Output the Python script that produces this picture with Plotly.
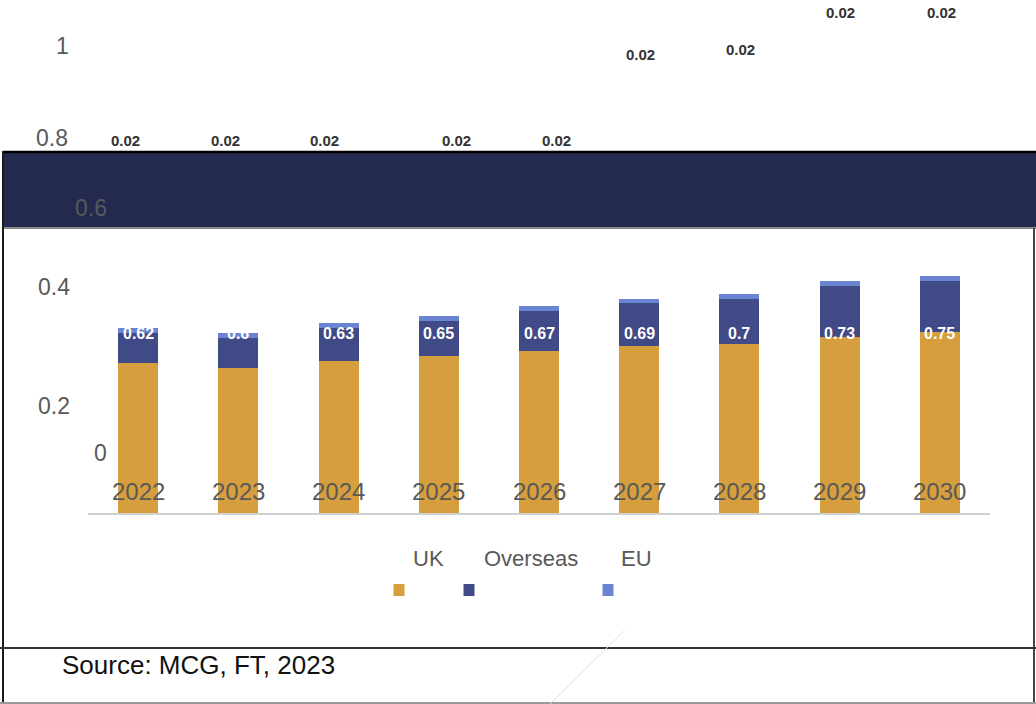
import plotly.graph_objects as go

# ---- data -------------------------------------------------------------
years = ["2022", "2023", "2024", "2025", "2026", "2027", "2028", "2029", "2030"]
uk = [0.62, 0.6, 0.63, 0.65, 0.67, 0.69, 0.7, 0.73, 0.75]
overseas = [0.127, 0.125, 0.138, 0.147, 0.167, 0.178, 0.188, 0.21, 0.212]
eu = [0.02, 0.02, 0.02, 0.02, 0.02, 0.02, 0.02, 0.02, 0.02]
value_ticks = ["1", "0.8", "0.6", "0.4", "0.2", "0"]
series_names = ["UK", "Overseas", "EU"]
source_text = "Source: MCG, FT, 2023"

# ---- styling / layout ------------------------------------------------
W, H = 1036, 704
L, R, T, B = 88, 46, 228, 191
PLOT_W = W - L - R
PLOT_H = H - T - B
Y_TOP = PLOT_H / 241.5          # value range shown inside the plot area

FONT = "Liberation Sans, Arial, sans-serif"
GREY = "#595959"
COLORS = {"UK": "#D69E3C", "Overseas": "#404A86", "EU": "#6A84D2"}
NAVY = "#242A4F"


def px(x):
    """pixel x -> paper x"""
    return (x - L) / PLOT_W


def py(y):
    """pixel y -> paper y"""
    return (H - B - y) / PLOT_H


# where the loose labels sit on the page (pixel centres)
tick_pos = [(62, 46), (52, 138), (91, 208), (54, 287), (54, 406), (100, 453)]
eu_label_pos = [(125, 140), (225, 140), (324, 140), (456, 140), (556, 140),
                (640, 55), (740, 49), (840, 12), (941, 12)]
legend_text_pos = [(428, 558), (531, 558), (636, 558)]
legend_swatch_pos = [(399, 590), (469, 590), (608, 590)]

fig = go.Figure()
for name, vals in zip(series_names, [uk, overseas, eu]):
    fig.add_trace(go.Bar(
        x=years, y=vals, name=name, width=0.4,
        marker=dict(color=COLORS[name], line=dict(width=0)),
        showlegend=False, hoverinfo="skip",
    ))

annotations = []

# value scale labels
for txt, (x, y) in zip(value_ticks, tick_pos):
    annotations.append(dict(
        xref="paper", yref="paper", x=px(x), y=py(y), text=txt,
        showarrow=False, xanchor="center", yanchor="middle",
        font=dict(family=FONT, size=23, color=GREY)))

# year labels sitting just above the baseline (category axis -> index)
for i, yr in enumerate(years):
    annotations.append(dict(
        xref="x", yref="paper", x=i, y=py(491), text=yr,
        showarrow=False, xanchor="center", yanchor="middle",
        font=dict(family=FONT, size=24, color=GREY)))

# UK value labels inside the bars
for i, v in enumerate(uk):
    annotations.append(dict(
        xref="x", yref="paper", x=i, y=py(333), text=f"<b>{v:g}</b>",
        showarrow=False, xanchor="center", yanchor="middle",
        font=dict(family=FONT, size=16, color="white")))

# EU value labels
for v, (x, y) in zip(eu, eu_label_pos):
    annotations.append(dict(
        xref="paper", yref="paper", x=px(x), y=py(y), text=f"<b>{v:g}</b>",
        showarrow=False, xanchor="center", yanchor="middle",
        font=dict(family=FONT, size=15, color="#333333")))

# legend
for name, (x, y) in zip(series_names, legend_text_pos):
    annotations.append(dict(
        xref="paper", yref="paper", x=px(x), y=py(y), text=name,
        showarrow=False, xanchor="center", yanchor="middle",
        font=dict(family=FONT, size=22, color=GREY)))

# source line
annotations.append(dict(
    xref="paper", yref="paper", x=px(60), y=py(665), text=source_text,
    showarrow=False, xanchor="left", yanchor="middle",
    font=dict(family=FONT, size=26, color="#111111")))

shapes = []
# dark header band
shapes.append(dict(type="rect", xref="paper", yref="paper", layer="above",
                   x0=px(3), x1=px(1036), y0=py(228), y1=py(152),
                   fillcolor=NAVY, line=dict(width=0)))
shapes.append(dict(type="line", xref="paper", yref="paper", layer="above",
                   x0=px(3), x1=px(1036), y0=py(152), y1=py(152),
                   line=dict(color="#000000", width=2.5)))
shapes.append(dict(type="line", xref="paper", yref="paper", layer="above",
                   x0=px(3), x1=px(1036), y0=py(228), y1=py(228),
                   line=dict(color="#8a8a8a", width=2)))
# frame
shapes.append(dict(type="line", xref="paper", yref="paper", layer="above",
                   x0=px(3), x1=px(3), y0=py(151), y1=py(704),
                   line=dict(color="#1a1a1a", width=2)))
shapes.append(dict(type="line", xref="paper", yref="paper", layer="above",
                   x0=px(1034), x1=px(1034), y0=py(228), y1=py(704),
                   line=dict(color="#444444", width=2)))
shapes.append(dict(type="line", xref="paper", yref="paper", layer="above",
                   x0=px(0), x1=px(1036), y0=py(648), y1=py(648),
                   line=dict(color="#333333", width=2)))
shapes.append(dict(type="line", xref="paper", yref="paper", layer="above",
                   x0=px(0), x1=px(1036), y0=py(703), y1=py(703),
                   line=dict(color="#9a9a9a", width=2)))
# faint stray stroke
shapes.append(dict(type="line", xref="paper", yref="paper", layer="above",
                   x0=px(625), x1=px(550), y0=py(630), y1=py(704),
                   line=dict(color="#e2e2e2", width=1)))
# legend swatches
for name, (x, y) in zip(series_names, legend_swatch_pos):
    shapes.append(dict(type="rect", xref="paper", yref="paper", layer="above",
                       x0=px(x - 5.5), x1=px(x + 5.5),
                       y0=py(y + 6), y1=py(y - 6),
                       fillcolor=COLORS[name], line=dict(width=0)))

fig.update_layout(
    width=W, height=H,
    margin=dict(l=L, r=R, t=T, b=B, pad=0),
    barmode="stack",
    paper_bgcolor="white", plot_bgcolor="white",
    showlegend=False,
    annotations=annotations,
    shapes=shapes,
    font=dict(family=FONT),
    xaxis=dict(type="category", showticklabels=False, ticks="",
               showgrid=False, zeroline=False, showline=True,
               linecolor="#d0d0d0", linewidth=2, layer="below traces",
               range=[-0.5, 8.5], fixedrange=True),
    yaxis=dict(visible=False, range=[0, Y_TOP], showgrid=False,
               zeroline=False, fixedrange=True),
)

fig.write_html("out.html", config={"displayModeBar": False})
